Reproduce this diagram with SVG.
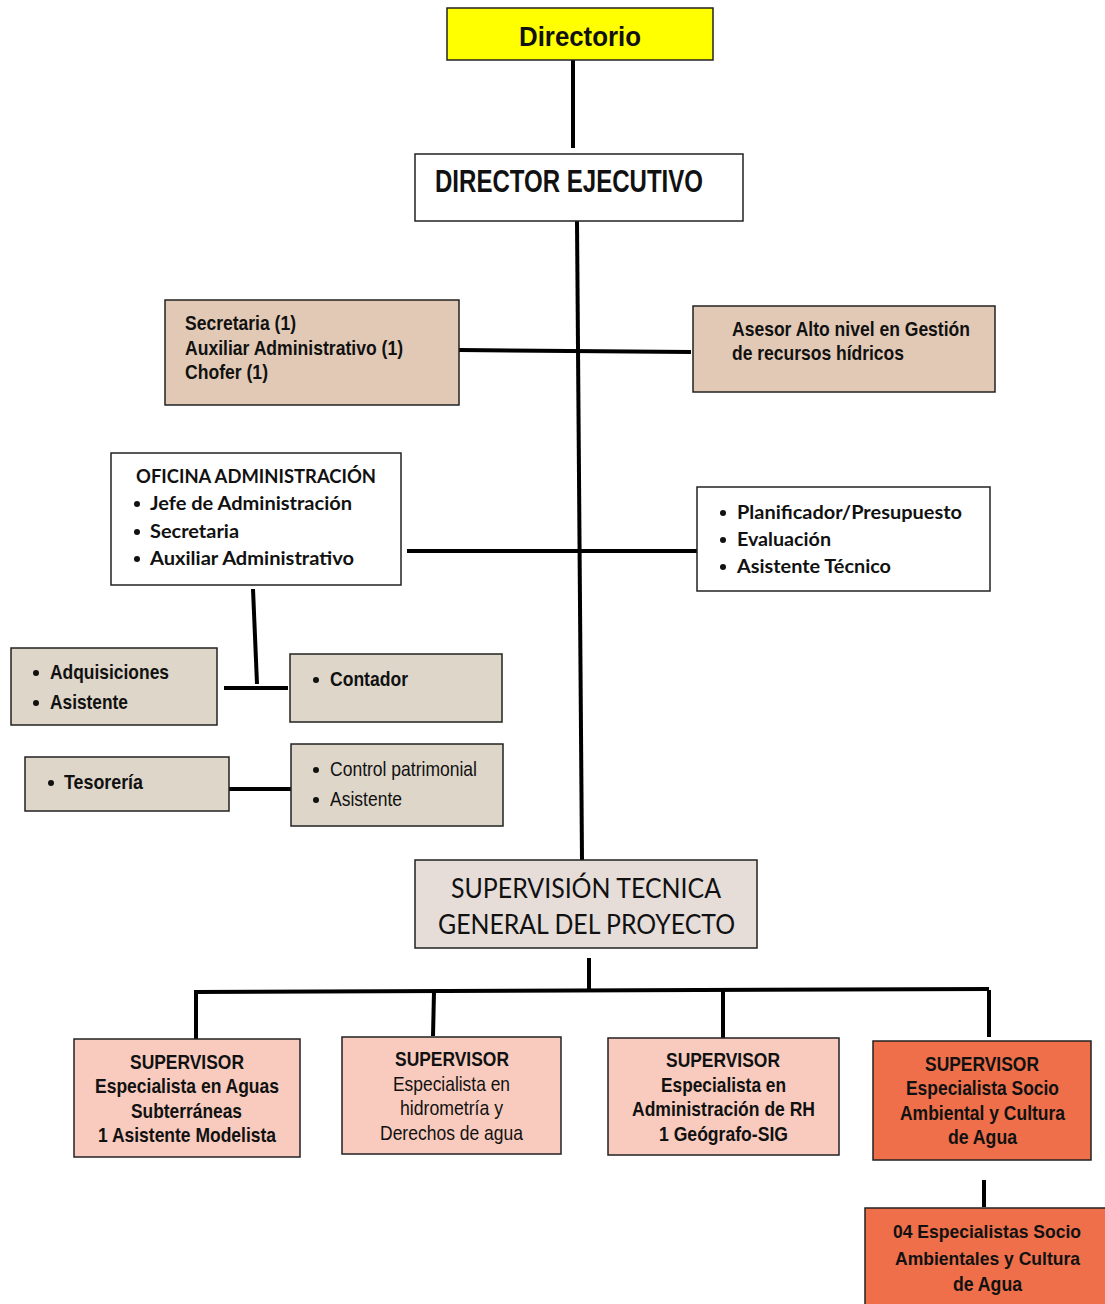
<svg xmlns="http://www.w3.org/2000/svg" width="1105" height="1304" viewBox="0 0 1105 1304">
<style>
.box{stroke:#222;stroke-width:1.5}
.n{font-family:"Liberation Sans",Arial,sans-serif;fill:#111}
.nb{font-family:"Liberation Sans",Arial,sans-serif;font-weight:bold;fill:#111}
.c{font-family:Lato,"Open Sans",sans-serif;fill:#111}
.cb{font-family:Lato,"Open Sans",sans-serif;font-weight:bold;fill:#111}
.ln{stroke:#000;stroke-width:4;fill:none}
.tan{fill:#E2C9B6}
.beige{fill:#DED6C9}
.pink{fill:#F8CBBE}
.org{fill:#EE6F4A}
</style>
<rect width="1105" height="1304" fill="#fff"/>
<g id="connectors">
<line class="ln" x1="573" y1="60" x2="573" y2="148" stroke-width="3"/>
<line class="ln" x1="577" y1="221" x2="582" y2="860"/>
<line class="ln" x1="459" y1="350" x2="691" y2="352"/>
<line class="ln" x1="407" y1="551" x2="703" y2="551"/>
<line class="ln" x1="253" y1="589" x2="257" y2="684"/>
<line class="ln" x1="224" y1="688" x2="288" y2="688"/>
<line class="ln" x1="229" y1="789" x2="296" y2="789"/>
<line class="ln" x1="589" y1="958" x2="589" y2="990"/>
<line class="ln" x1="194" y1="992" x2="989" y2="989"/>
<line class="ln" x1="196" y1="992" x2="196" y2="1048"/>
<line class="ln" x1="434" y1="992" x2="433" y2="1036"/>
<line class="ln" x1="723" y1="991" x2="723" y2="1044"/>
<line class="ln" x1="989" y1="990" x2="989" y2="1037"/>
<line class="ln" x1="984" y1="1180" x2="984" y2="1207"/>
</g>
<g id="directorio">
<rect class="box" x="447" y="8" width="266" height="52" fill="#FFFF00"/>
<text class="nb" x="519" y="46" font-size="28" textLength="122" lengthAdjust="spacingAndGlyphs">Directorio</text>
</g>
<g id="director-ejecutivo">
<rect class="box" x="415" y="154" width="328" height="67" fill="#fff"/>
<text class="nb" x="435" y="192" font-size="31" textLength="268" lengthAdjust="spacingAndGlyphs">DIRECTOR EJECUTIVO</text>
</g>
<g id="secretaria">
<rect class="box tan" x="165" y="300" width="294" height="105"/>
<text class="nb" x="185" y="330" font-size="21" textLength="111" lengthAdjust="spacingAndGlyphs">Secretaria (1)</text>
<text class="nb" x="185" y="355" font-size="21" textLength="218" lengthAdjust="spacingAndGlyphs">Auxiliar Administrativo (1)</text>
<text class="nb" x="185" y="379" font-size="21" textLength="83" lengthAdjust="spacingAndGlyphs">Chofer (1)</text>
</g>
<g id="asesor">
<rect class="box tan" x="693" y="306" width="302" height="86"/>
<text class="nb" x="732" y="336" font-size="21" textLength="238" lengthAdjust="spacingAndGlyphs">Asesor Alto nivel en Gestión</text>
<text class="nb" x="732" y="360" font-size="21" textLength="172" lengthAdjust="spacingAndGlyphs">de recursos hídricos</text>
</g>
<g id="oficina">
<rect class="box" x="111" y="453" width="290" height="132" fill="#fff"/>
<text class="cb" x="136" y="483" font-size="18.5" textLength="240" lengthAdjust="spacingAndGlyphs">OFICINA ADMINISTRACIÓN</text>
<circle cx="137" cy="504" r="3" fill="#111"/><text class="cb" x="150" y="510" font-size="19" textLength="202" lengthAdjust="spacingAndGlyphs">Jefe de Administración</text>
<circle cx="137" cy="532" r="3" fill="#111"/><text class="cb" x="150" y="538" font-size="19" textLength="89" lengthAdjust="spacingAndGlyphs">Secretaria</text>
<circle cx="137" cy="559" r="3" fill="#111"/><text class="cb" x="150" y="565" font-size="19" textLength="204" lengthAdjust="spacingAndGlyphs">Auxiliar Administrativo</text>
</g>
<g id="planificador">
<rect class="box" x="697" y="487" width="293" height="104" fill="#fff"/>
<circle cx="723" cy="513" r="3" fill="#111"/><text class="cb" x="737" y="519" font-size="19" textLength="225" lengthAdjust="spacingAndGlyphs">Planificador/Presupuesto</text>
<circle cx="723" cy="540" r="3" fill="#111"/><text class="cb" x="737" y="546" font-size="19" textLength="94" lengthAdjust="spacingAndGlyphs">Evaluación</text>
<circle cx="723" cy="567" r="3" fill="#111"/><text class="cb" x="737" y="573" font-size="19" textLength="154" lengthAdjust="spacingAndGlyphs">Asistente Técnico</text>
</g>
<g id="adquisiciones">
<rect class="box beige" x="11" y="648" width="206" height="77"/>
<circle cx="36" cy="673" r="3" fill="#111"/><text class="nb" x="50" y="679" font-size="21" textLength="119" lengthAdjust="spacingAndGlyphs">Adquisiciones</text>
<circle cx="36" cy="703" r="3" fill="#111"/><text class="nb" x="50" y="709" font-size="21" textLength="78" lengthAdjust="spacingAndGlyphs">Asistente</text>
</g>
<g id="contador">
<rect class="box beige" x="290" y="654" width="212" height="68"/>
<circle cx="316" cy="680" r="3" fill="#111"/><text class="nb" x="330" y="686" font-size="21" textLength="78" lengthAdjust="spacingAndGlyphs">Contador</text>
</g>
<g id="tesoreria">
<rect class="box beige" x="25" y="757" width="204" height="54"/>
<circle cx="51" cy="783" r="3" fill="#111"/><text class="nb" x="64" y="789" font-size="21" textLength="79" lengthAdjust="spacingAndGlyphs">Tesorería</text>
</g>
<g id="control">
<rect class="box beige" x="291" y="744" width="212" height="82"/>
<circle cx="316" cy="770" r="3" fill="#111"/><text class="n" x="330" y="776" font-size="21" textLength="147" lengthAdjust="spacingAndGlyphs">Control patrimonial</text>
<circle cx="316" cy="800" r="3" fill="#111"/><text class="n" x="330" y="806" font-size="21" textLength="72" lengthAdjust="spacingAndGlyphs">Asistente</text>
</g>
<g id="supervision">
<rect class="box" x="415" y="860" width="342" height="88" fill="#E6DDD9"/>
<text class="c" x="451" y="898" font-size="26" textLength="270" lengthAdjust="spacingAndGlyphs">SUPERVISIÓN TECNICA</text>
<text class="c" x="438" y="934" font-size="26" textLength="297" lengthAdjust="spacingAndGlyphs">GENERAL DEL PROYECTO</text>
</g>
<g id="sup-aguas">
<rect class="box pink" x="74" y="1039" width="226" height="118"/>
<text class="nb" x="130" y="1069" font-size="21" textLength="114" lengthAdjust="spacingAndGlyphs">SUPERVISOR</text>
<text class="nb" x="95" y="1093" font-size="21" textLength="184" lengthAdjust="spacingAndGlyphs">Especialista en Aguas</text>
<text class="nb" x="131" y="1118" font-size="21" textLength="111" lengthAdjust="spacingAndGlyphs">Subterráneas</text>
<text class="nb" x="98" y="1142" font-size="21" textLength="178" lengthAdjust="spacingAndGlyphs">1 Asistente Modelista</text>
</g>
<g id="sup-hidrometria">
<rect class="box pink" x="342" y="1037" width="219" height="117"/>
<text class="nb" x="395" y="1066" font-size="21" textLength="114" lengthAdjust="spacingAndGlyphs">SUPERVISOR</text>
<text class="n" x="393" y="1091" font-size="21" textLength="117" lengthAdjust="spacingAndGlyphs">Especialista en</text>
<text class="n" x="400" y="1115" font-size="21" textLength="103" lengthAdjust="spacingAndGlyphs">hidrometría y</text>
<text class="n" x="380" y="1140" font-size="21" textLength="143" lengthAdjust="spacingAndGlyphs">Derechos de agua</text>
</g>
<g id="sup-rh">
<rect class="box pink" x="608" y="1038" width="231" height="117"/>
<text class="nb" x="666" y="1067" font-size="21" textLength="114" lengthAdjust="spacingAndGlyphs">SUPERVISOR</text>
<text class="nb" x="661" y="1092" font-size="21" textLength="125" lengthAdjust="spacingAndGlyphs">Especialista en</text>
<text class="nb" x="632" y="1116" font-size="21" textLength="183" lengthAdjust="spacingAndGlyphs">Administración de RH</text>
<text class="nb" x="659" y="1141" font-size="21" textLength="129" lengthAdjust="spacingAndGlyphs">1 Geógrafo-SIG</text>
</g>
<g id="sup-socio">
<rect class="box org" x="873" y="1041" width="218" height="119"/>
<text class="nb" x="925" y="1071" font-size="21" textLength="114" lengthAdjust="spacingAndGlyphs">SUPERVISOR</text>
<text class="nb" x="906" y="1095" font-size="21" textLength="153" lengthAdjust="spacingAndGlyphs">Especialista Socio</text>
<text class="nb" x="900" y="1120" font-size="21" textLength="165" lengthAdjust="spacingAndGlyphs">Ambiental y Cultura</text>
<text class="nb" x="948" y="1144" font-size="21" textLength="69" lengthAdjust="spacingAndGlyphs">de Agua</text>
</g>
<g id="especialistas">
<rect class="box org" x="865" y="1208" width="245" height="100"/>
<text class="nb" x="893" y="1238" font-size="19" textLength="188" lengthAdjust="spacingAndGlyphs">04 Especialistas Socio</text>
<text class="nb" x="895" y="1265" font-size="19" textLength="185" lengthAdjust="spacingAndGlyphs">Ambientales y Cultura</text>
<text class="nb" x="953" y="1291" font-size="21" textLength="69" lengthAdjust="spacingAndGlyphs">de Agua</text>
</g>
</svg>
